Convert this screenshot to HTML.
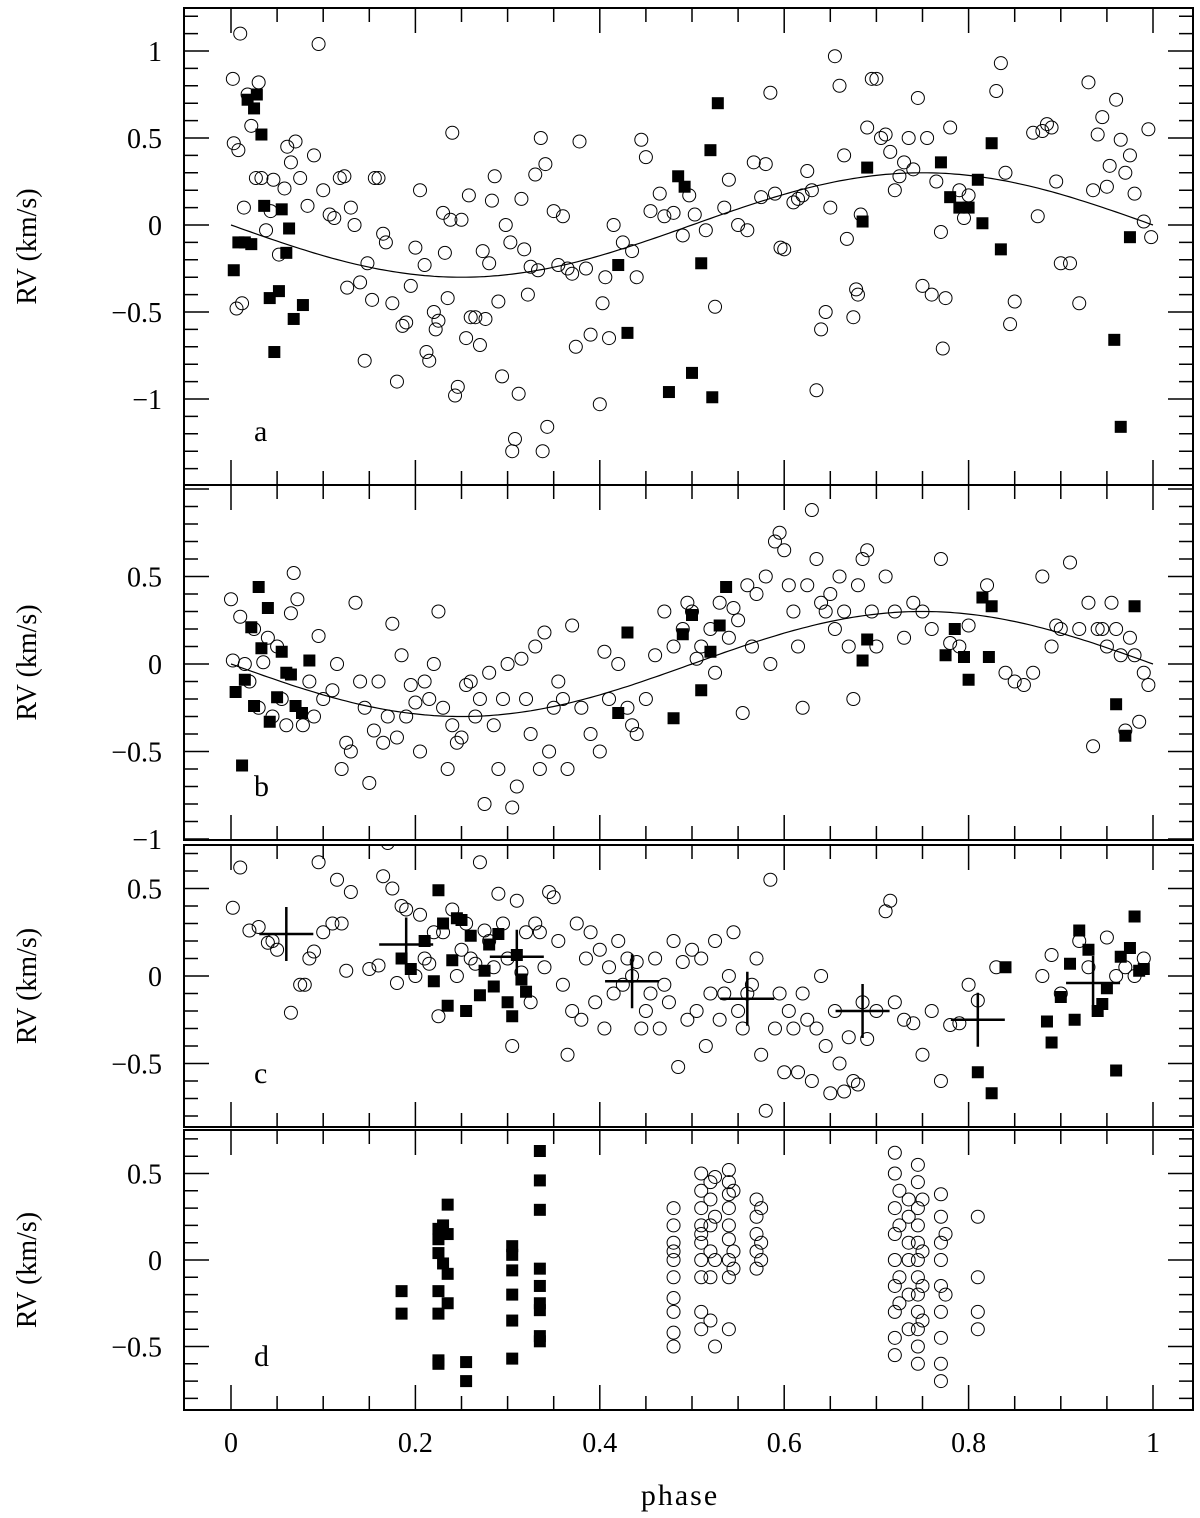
<!DOCTYPE html>
<html><head><meta charset="utf-8"><style>
body{margin:0;background:#fff}
svg{display:block;font-family:"Liberation Serif",serif}
</style></head><body>
<svg id="c" width="1200" height="1518" viewBox="0 0 1200 1518" xmlns="http://www.w3.org/2000/svg"></svg>
<script>
const phaseTicks=[0,0.2,0.4,0.6,0.8,1];
const phaseTickLabels=["0","0.2","0.4","0.6","0.8","1"];
const sineAmp=0.3;
// panel a
const aOpen=[[0.002,0.84],[0.003,0.47],[0.006,-0.48],[0.008,0.43],[0.01,1.1],[0.012,-0.45],[0.014,0.1],[0.018,0.75],[0.022,0.57],[0.027,0.27],[0.03,0.82],[0.033,0.27],[0.038,-0.03],[0.043,0.08],[0.046,0.26],[0.052,-0.17],[0.058,0.21],[0.061,0.45],[0.065,0.36],[0.07,0.48],[0.075,0.27],[0.083,0.11],[0.09,0.4],[0.095,1.04],[0.1,0.2],[0.107,0.06],[0.112,0.04],[0.118,0.27],[0.123,0.28],[0.126,-0.36],[0.13,0.1],[0.134,0.0],[0.14,-0.33],[0.145,-0.78],[0.148,-0.22],[0.153,-0.43],[0.156,0.27],[0.16,0.27],[0.165,-0.05],[0.168,-0.1],[0.175,-0.45],[0.18,-0.9],[0.186,-0.58],[0.19,-0.56],[0.195,-0.35],[0.2,-0.13],[0.205,0.2],[0.21,-0.23],[0.212,-0.73],[0.215,-0.78],[0.22,-0.5],[0.222,-0.6],[0.225,-0.55],[0.23,0.07],[0.232,-0.16],[0.235,-0.42],[0.238,0.03],[0.24,0.53],[0.243,-0.98],[0.246,-0.93],[0.25,0.03],[0.255,-0.65],[0.258,0.17],[0.26,-0.53],[0.265,-0.53],[0.27,-0.69],[0.273,-0.15],[0.276,-0.54],[0.28,-0.22],[0.283,0.14],[0.286,0.28],[0.29,-0.44],[0.294,-0.87],[0.298,0.0],[0.303,-0.1],[0.305,-1.3],[0.308,-1.23],[0.312,-0.97],[0.315,0.15],[0.318,-0.14],[0.322,-0.4],[0.325,-0.24],[0.33,0.29],[0.333,-0.26],[0.336,0.5],[0.338,-1.3],[0.341,0.35],[0.343,-1.16],[0.35,0.08],[0.355,-0.23],[0.36,0.05],[0.365,-0.25],[0.37,-0.28],[0.374,-0.7],[0.378,0.48],[0.385,-0.25],[0.39,-0.63],[0.4,-1.03],[0.403,-0.45],[0.406,-0.3],[0.41,-0.65],[0.415,0.0],[0.425,-0.1],[0.435,-0.15],[0.44,-0.3],[0.445,0.49],[0.45,0.39],[0.455,0.08],[0.465,0.18],[0.47,0.05],[0.48,0.07],[0.49,-0.06],[0.497,0.17],[0.503,0.06],[0.515,-0.03],[0.525,-0.47],[0.535,0.1],[0.54,0.26],[0.55,0.0],[0.56,-0.03],[0.567,0.36],[0.575,0.16],[0.58,0.35],[0.585,0.76],[0.59,0.18],[0.596,-0.13],[0.6,-0.14],[0.61,0.13],[0.615,0.15],[0.62,0.17],[0.625,0.31],[0.63,0.2],[0.635,-0.95],[0.64,-0.6],[0.645,-0.5],[0.65,0.1],[0.655,0.97],[0.66,0.8],[0.665,0.4],[0.668,-0.08],[0.675,-0.53],[0.678,-0.37],[0.68,-0.4],[0.683,0.06],[0.69,0.56],[0.695,0.84],[0.7,0.84],[0.705,0.5],[0.71,0.52],[0.715,0.42],[0.72,0.2],[0.725,0.28],[0.73,0.36],[0.735,0.5],[0.74,0.32],[0.745,0.73],[0.75,-0.35],[0.755,0.5],[0.76,-0.4],[0.765,0.25],[0.77,-0.04],[0.772,-0.71],[0.775,-0.42],[0.78,0.56],[0.79,0.2],[0.795,0.04],[0.8,0.17],[0.83,0.77],[0.835,0.93],[0.84,0.3],[0.845,-0.57],[0.85,-0.44],[0.87,0.53],[0.875,0.05],[0.88,0.54],[0.885,0.58],[0.89,0.56],[0.895,0.25],[0.9,-0.22],[0.91,-0.22],[0.92,-0.45],[0.93,0.82],[0.935,0.2],[0.94,0.52],[0.945,0.62],[0.95,0.22],[0.953,0.34],[0.96,0.72],[0.965,0.49],[0.97,0.3],[0.975,0.4],[0.98,0.18],[0.99,0.02],[0.995,0.55],[0.998,-0.07]];
const aFilled=[[0.003,-0.26],[0.008,-0.1],[0.015,-0.1],[0.018,0.72],[0.022,-0.11],[0.025,0.67],[0.028,0.75],[0.033,0.52],[0.036,0.11],[0.042,-0.42],[0.047,-0.73],[0.052,-0.38],[0.055,0.09],[0.06,-0.16],[0.063,-0.02],[0.068,-0.54],[0.078,-0.46],[0.42,-0.23],[0.43,-0.62],[0.475,-0.96],[0.485,0.28],[0.492,0.22],[0.5,-0.85],[0.51,-0.22],[0.52,0.43],[0.522,-0.99],[0.528,0.7],[0.685,0.02],[0.69,0.33],[0.77,0.36],[0.78,0.16],[0.79,0.1],[0.8,0.1],[0.81,0.26],[0.815,0.01],[0.825,0.47],[0.835,-0.14],[0.958,-0.66],[0.965,-1.16],[0.975,-0.07]];
// panel b
const bOpen=[[0.0,0.37],[0.002,0.02],[0.01,0.27],[0.015,0.0],[0.02,-0.1],[0.025,0.2],[0.03,-0.25],[0.035,0.01],[0.04,0.15],[0.045,-0.3],[0.05,0.1],[0.055,-0.2],[0.06,-0.35],[0.065,0.29],[0.068,0.52],[0.072,0.37],[0.078,-0.35],[0.085,-0.1],[0.09,-0.3],[0.095,0.16],[0.1,-0.2],[0.11,-0.15],[0.115,0.0],[0.12,-0.6],[0.125,-0.45],[0.13,-0.5],[0.135,0.35],[0.14,-0.1],[0.145,-0.25],[0.15,-0.68],[0.155,-0.38],[0.16,-0.1],[0.165,-0.45],[0.17,-0.3],[0.175,0.23],[0.18,-0.42],[0.185,0.05],[0.19,-0.3],[0.195,-0.12],[0.2,-0.22],[0.205,-0.5],[0.21,-0.1],[0.215,-0.2],[0.22,0.0],[0.225,0.3],[0.23,-0.25],[0.235,-0.6],[0.24,-0.35],[0.245,-0.45],[0.25,-0.42],[0.255,-0.12],[0.26,-0.1],[0.265,-0.3],[0.27,-0.2],[0.275,-0.8],[0.28,-0.05],[0.285,-0.35],[0.29,-0.6],[0.295,-0.2],[0.3,0.0],[0.305,-0.82],[0.31,-0.7],[0.315,0.03],[0.32,-0.2],[0.325,-0.4],[0.33,0.1],[0.335,-0.6],[0.34,0.18],[0.345,-0.5],[0.35,-0.25],[0.355,-0.1],[0.36,-0.2],[0.365,-0.6],[0.37,0.22],[0.38,-0.25],[0.39,-0.4],[0.4,-0.5],[0.405,0.07],[0.41,-0.2],[0.42,0.0],[0.43,-0.25],[0.435,-0.35],[0.44,-0.4],[0.45,-0.2],[0.46,0.05],[0.47,0.3],[0.48,0.1],[0.49,0.2],[0.495,0.35],[0.5,0.3],[0.505,0.03],[0.51,0.1],[0.52,0.2],[0.525,-0.05],[0.53,0.35],[0.54,0.15],[0.545,0.32],[0.55,0.25],[0.555,-0.28],[0.56,0.45],[0.565,0.1],[0.57,0.4],[0.58,0.5],[0.585,0.0],[0.59,0.7],[0.595,0.75],[0.6,0.65],[0.605,0.45],[0.61,0.3],[0.615,0.1],[0.62,-0.25],[0.625,0.45],[0.63,0.88],[0.635,0.6],[0.64,0.35],[0.645,0.3],[0.65,0.4],[0.655,0.2],[0.66,0.5],[0.665,0.3],[0.67,0.1],[0.675,-0.2],[0.68,0.45],[0.685,0.6],[0.69,0.65],[0.695,0.3],[0.7,0.1],[0.71,0.5],[0.72,0.3],[0.73,0.15],[0.74,0.35],[0.75,0.3],[0.76,0.2],[0.77,0.6],[0.78,0.12],[0.79,0.1],[0.8,0.22],[0.82,0.45],[0.84,-0.05],[0.85,-0.1],[0.86,-0.12],[0.87,-0.05],[0.88,0.5],[0.89,0.1],[0.895,0.22],[0.9,0.2],[0.91,0.58],[0.92,0.2],[0.93,0.35],[0.935,-0.47],[0.94,0.2],[0.945,0.2],[0.95,0.1],[0.955,0.35],[0.96,0.2],[0.965,0.05],[0.97,-0.38],[0.975,0.15],[0.98,0.05],[0.985,-0.33],[0.99,-0.05],[0.995,-0.12]];
const bFilled=[[0.005,-0.16],[0.012,-0.58],[0.015,-0.09],[0.022,0.21],[0.025,-0.24],[0.03,0.44],[0.033,0.09],[0.04,0.32],[0.042,-0.33],[0.05,-0.19],[0.055,0.07],[0.06,-0.05],[0.065,-0.06],[0.07,-0.24],[0.077,-0.28],[0.085,0.02],[0.42,-0.28],[0.43,0.18],[0.48,-0.31],[0.49,0.17],[0.5,0.28],[0.51,-0.15],[0.52,0.07],[0.53,0.22],[0.537,0.44],[0.685,0.02],[0.69,0.14],[0.775,0.05],[0.785,0.2],[0.795,0.04],[0.8,-0.09],[0.815,0.38],[0.822,0.04],[0.825,0.33],[0.96,-0.23],[0.97,-0.41],[0.98,0.33]];
// panel c
const cOpen=[[0.002,0.39],[0.01,0.62],[0.02,0.26],[0.03,0.28],[0.04,0.19],[0.045,0.2],[0.05,0.15],[0.065,-0.21],[0.075,-0.05],[0.08,-0.05],[0.085,0.1],[0.09,0.14],[0.095,0.65],[0.1,0.25],[0.11,0.3],[0.115,0.55],[0.12,0.3],[0.125,0.03],[0.13,0.48],[0.15,0.04],[0.16,0.06],[0.165,0.57],[0.17,0.76],[0.175,0.5],[0.18,-0.04],[0.185,0.4],[0.19,0.38],[0.2,0.0],[0.205,0.35],[0.21,0.1],[0.215,0.07],[0.22,0.25],[0.225,-0.23],[0.23,0.25],[0.24,0.38],[0.245,0.0],[0.25,0.15],[0.255,0.3],[0.26,0.1],[0.265,0.07],[0.27,0.65],[0.275,0.26],[0.28,0.2],[0.285,0.05],[0.29,0.47],[0.295,0.3],[0.3,0.1],[0.305,-0.4],[0.31,0.43],[0.315,0.02],[0.32,0.25],[0.325,-0.15],[0.33,0.3],[0.335,0.25],[0.34,0.05],[0.345,0.48],[0.35,0.45],[0.355,0.2],[0.36,-0.05],[0.365,-0.45],[0.37,-0.2],[0.375,0.3],[0.38,-0.25],[0.385,0.1],[0.39,0.25],[0.395,-0.15],[0.4,0.15],[0.405,-0.3],[0.41,0.05],[0.415,-0.1],[0.42,0.2],[0.425,-0.05],[0.43,0.1],[0.435,0.0],[0.44,0.08],[0.445,-0.3],[0.45,-0.2],[0.455,-0.1],[0.46,0.1],[0.465,-0.3],[0.47,-0.05],[0.475,-0.15],[0.48,0.2],[0.485,-0.52],[0.49,0.08],[0.495,-0.25],[0.5,0.15],[0.505,-0.2],[0.51,0.1],[0.515,-0.4],[0.52,-0.1],[0.525,0.2],[0.53,-0.25],[0.535,-0.1],[0.54,0.0],[0.545,0.25],[0.55,-0.2],[0.555,-0.3],[0.56,-0.1],[0.565,-0.05],[0.57,0.1],[0.575,-0.45],[0.58,-0.77],[0.585,0.55],[0.59,-0.3],[0.595,-0.1],[0.6,-0.55],[0.605,-0.2],[0.61,-0.3],[0.615,-0.55],[0.62,-0.1],[0.625,-0.25],[0.63,-0.6],[0.635,-0.3],[0.64,0.0],[0.645,-0.4],[0.65,-0.67],[0.655,-0.2],[0.66,-0.5],[0.665,-0.66],[0.67,-0.35],[0.675,-0.6],[0.68,-0.62],[0.685,-0.15],[0.69,-0.36],[0.7,-0.2],[0.71,0.37],[0.715,0.43],[0.72,-0.15],[0.73,-0.25],[0.74,-0.27],[0.75,-0.45],[0.76,-0.2],[0.77,-0.6],[0.78,-0.28],[0.79,-0.27],[0.8,-0.05],[0.81,-0.14],[0.83,0.05],[0.88,0.0],[0.89,0.12],[0.9,-0.1],[0.92,0.2],[0.93,0.05],[0.95,0.22],[0.96,0.0],[0.97,0.05],[0.98,0.0],[0.99,0.1]];
const cFilled=[[0.185,0.1],[0.195,0.04],[0.21,0.2],[0.22,-0.03],[0.225,0.49],[0.23,0.3],[0.235,-0.17],[0.24,0.09],[0.245,0.33],[0.25,0.32],[0.255,-0.2],[0.26,0.23],[0.27,-0.11],[0.275,0.03],[0.28,0.18],[0.285,-0.06],[0.29,0.24],[0.3,-0.15],[0.305,-0.23],[0.31,0.12],[0.315,-0.02],[0.32,-0.09],[0.84,0.05],[0.81,-0.55],[0.825,-0.67],[0.885,-0.26],[0.89,-0.38],[0.9,-0.12],[0.91,0.07],[0.915,-0.25],[0.92,0.26],[0.93,0.15],[0.94,-0.2],[0.945,-0.16],[0.95,-0.07],[0.96,-0.54],[0.965,0.11],[0.975,0.16],[0.98,0.34],[0.985,0.03],[0.99,0.04]];
const cBinPhase=[0.06,0.19,0.31,0.435,0.56,0.685,0.81,0.935];
const cBinMean=[0.24,0.18,0.11,-0.03,-0.13,-0.2,-0.25,-0.04];
// panel d
const dOpen=[[0.48,0.05],[0.48,-0.3],[0.48,0.3],[0.48,-0.5],[0.48,0.2],[0.48,-0.1],[0.48,-0.42],[0.48,0.1],[0.48,0.0],[0.48,-0.22],[0.51,0.5],[0.51,0.4],[0.51,0.3],[0.51,0.2],[0.51,0.1],[0.51,0.0],[0.51,-0.1],[0.51,-0.3],[0.51,-0.4],[0.51,0.15],[0.52,0.45],[0.52,0.35],[0.52,0.2],[0.52,0.05],[0.52,-0.1],[0.52,-0.35],[0.525,0.48],[0.525,0.25],[0.525,0.0],[0.525,-0.5],[0.54,0.52],[0.54,0.45],[0.54,0.38],[0.54,0.3],[0.54,0.2],[0.54,0.12],[0.54,0.0],[0.54,-0.1],[0.54,-0.4],[0.545,0.4],[0.545,0.05],[0.545,-0.05],[0.57,0.35],[0.57,0.25],[0.57,0.15],[0.57,0.05],[0.57,-0.05],[0.575,0.3],[0.575,0.1],[0.575,0.0],[0.72,0.62],[0.72,0.5],[0.72,0.3],[0.72,0.15],[0.72,0.0],[0.72,-0.15],[0.72,-0.3],[0.72,-0.45],[0.72,-0.55],[0.725,0.4],[0.725,0.2],[0.725,-0.1],[0.725,-0.25],[0.735,0.35],[0.735,0.25],[0.735,0.1],[0.735,0.0],[0.735,-0.2],[0.735,-0.4],[0.745,0.55],[0.745,0.45],[0.745,0.3],[0.745,0.2],[0.745,0.1],[0.745,0.0],[0.745,-0.1],[0.745,-0.2],[0.745,-0.3],[0.745,-0.4],[0.745,-0.5],[0.745,-0.6],[0.75,0.35],[0.75,0.05],[0.75,-0.15],[0.75,-0.35],[0.77,0.38],[0.77,0.25],[0.77,0.1],[0.77,0.0],[0.77,-0.15],[0.77,-0.3],[0.77,-0.45],[0.77,-0.6],[0.77,-0.7],[0.775,0.15],[0.775,-0.2],[0.81,0.25],[0.81,-0.1],[0.81,-0.3],[0.81,-0.4]];
const dFilled=[[0.185,-0.18],[0.185,-0.31],[0.225,0.18],[0.225,0.12],[0.225,0.04],[0.225,-0.18],[0.225,-0.31],[0.225,-0.58],[0.225,-0.6],[0.23,0.2],[0.23,-0.02],[0.235,0.32],[0.235,0.15],[0.235,-0.08],[0.235,-0.25],[0.255,-0.59],[0.255,-0.7],[0.305,0.08],[0.305,0.03],[0.305,-0.06],[0.305,-0.2],[0.305,-0.35],[0.305,-0.57],[0.335,0.63],[0.335,0.46],[0.335,0.29],[0.335,-0.05],[0.335,-0.15],[0.335,-0.25],[0.335,-0.29],[0.335,-0.44],[0.335,-0.47]];

const panels=[
 {n:"a",top:8,bot:485,y0:225,k:174,ticks:[1,0.5,0,-0.5,-1],lab:["1","0.5","0","−0.5","−1"],open:aOpen,fill:aFilled,sine:true},
 {n:"b",top:485,bot:840,y0:664,k:175,ticks:[0.5,0,-0.5,-1],lab:["0.5","0","−0.5","−1"],open:bOpen,fill:bFilled,sine:true},
 {n:"c",top:845,bot:1127,y0:976,k:175,ticks:[0.5,0,-0.5],lab:["0.5","0","−0.5"],open:cOpen,fill:cFilled,bins:true},
 {n:"d",top:1130,bot:1410,y0:1260,k:173,ticks:[0.5,0,-0.5],lab:["0.5","0","−0.5"],open:dOpen,fill:dFilled}
];
const L=184,R=1193;
const X=p=>231+p*922;
const svg=document.getElementById('c');
const NS="http://www.w3.org/2000/svg";
function mk(t,a,parent){const e=document.createElementNS(NS,t);for(const k in a)e.setAttribute(k,a[k]);(parent||svg).appendChild(e);return e;}
panels.forEach(P=>{
 const Y=v=>P.y0-v*P.k;
 const g=mk('g',{});
 
 
 const cp='clip'+P.n;
 const cl=mk('clipPath',{id:cp},g);mk('rect',{x:L,y:P.top,width:R-L,height:P.bot-P.top},cl);
 const pts=mk('g',{'clip-path':'url(#'+cp+')'},g);
 if(P.sine){let d="";for(let i=0;i<=200;i++){const p=i/200;d+=(i?"L":"M")+X(p).toFixed(1)+","+Y(-sineAmp*Math.sin(2*Math.PI*p)).toFixed(1);}
  const s=mk('path',{d:d,fill:'none',stroke:'#000','stroke-width':1.2},pts);
  
  }
 P.open.forEach(q=>{const c=mk('circle',{cx:X(q[0]),cy:Y(q[1]),r:6.5,fill:'none',stroke:'#000','stroke-width':1},pts);
  
  });
 P.fill.forEach(q=>{const r=mk('rect',{x:X(q[0])-6,y:Y(q[1])-6,width:12,height:12,fill:'#000'},pts);
  
  });
 if(P.bins){cBinPhase.forEach((p,i)=>{const x=X(p),y=Y(cBinMean[i]);
  const b=mk('path',{d:`M${x-27},${y}H${x+27}M${x},${y-27}V${y+27}`,stroke:'#000','stroke-width':2.5,fill:'none'},pts);
  
  });}
 const fr=mk('rect',{x:L,y:P.top,width:R-L,height:P.bot-P.top,fill:'none',stroke:'#000','stroke-width':2},g);
 
 
 let d="";
 for(let i=0;i<=20;i++){const x=X(i*0.05),len=(i%4==0)?25:14;d+=`M${x},${P.bot}v${-len}M${x},${P.top}v${len}`;}
 for(let v=-1.5;v<=1.3;v+=0.1){const vv=Math.round(v*10)/10,y=Y(vv);if(y<P.top+1||y>P.bot-1)continue;const len=(Math.abs(vv*2-Math.round(vv*2))<1e-6)?25:14;d+=`M${L},${y}h${len}M${R},${y}h${-len}`;}
 mk('path',{d:d,stroke:'#000','stroke-width':1.5,fill:'none'},g);
 P.ticks.forEach((v,i)=>{const t=mk('text',{x:162,y:Y(v)+10,'text-anchor':'end','font-size':28},g);t.textContent=P.lab[i];
  
  });
 const yt=mk('text',{x:0,y:0,'font-size':28,'text-anchor':'middle',transform:`translate(36,${(P.top+P.bot)/2}) rotate(-90)`},g);yt.textContent="RV  (km/s)";
 
 
 const pl=mk('text',{x:254,y:P.bot-44,'font-size':30},g);pl.textContent=P.n;
 
 
});
phaseTicks.forEach((p,i)=>{const t=mk('text',{x:X(p),y:1452,'text-anchor':'middle','font-size':28});t.textContent=phaseTickLabels[i];
 
 });
const xt=mk('text',{x:680,y:1505,'text-anchor':'middle','font-size':30,'letter-spacing':'2'});xt.textContent="phase";


</script>
</body></html>
